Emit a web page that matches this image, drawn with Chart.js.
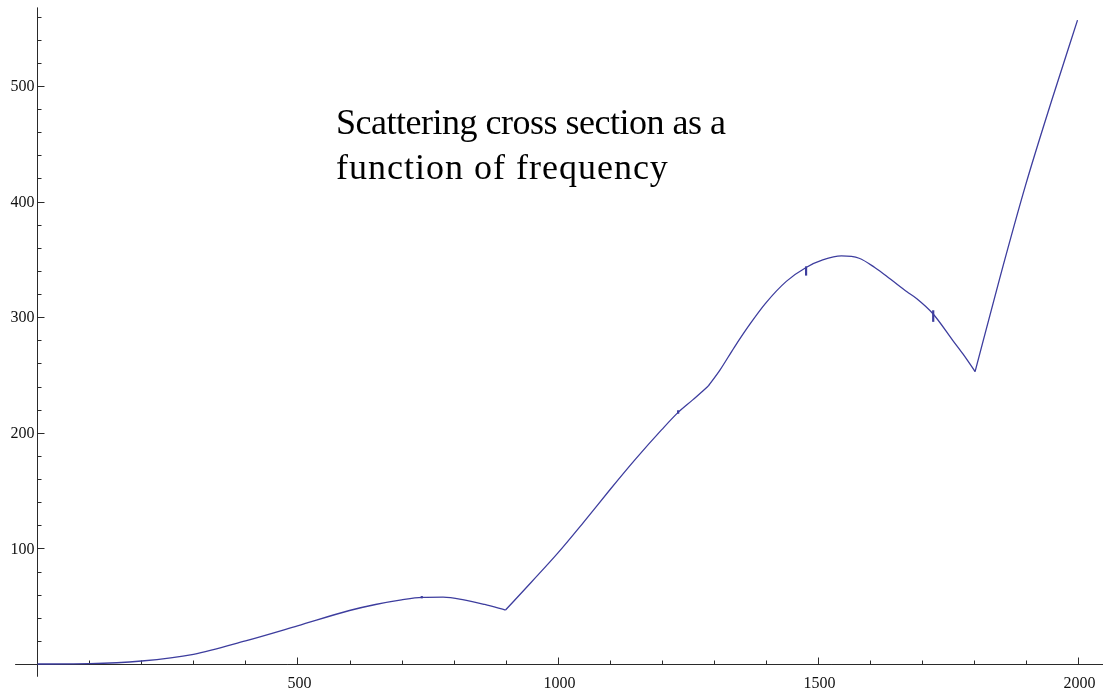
<!DOCTYPE html>
<html>
<head>
<meta charset="utf-8">
<title>Scattering cross section</title>
<script src="https://cdn.jsdelivr.net/npm/chart.js@4"></script>
<style>
  html, body { margin: 0; padding: 0; background: #fff; overflow: hidden; }
  canvas { display: block; }
</style>
</head>
<body>
<canvas id="chart" width="1103" height="692"></canvas>
<script>
// curve pieces (frequency, cross section), split at the sharp corners
const freqA = [0, 100, 200, 300, 400, 500, 600, 650, 700, 740, 780, 820, 860, 900];
const sigmaA = [0, 0.3, 2.6, 8.4, 20, 33, 46.3, 51.5, 55.5, 57.6, 57.8, 55.5, 51.5, 46.7];

const freqB = [900, 950, 1000, 1050, 1100, 1150, 1200, 1232, 1260, 1290];
const sigmaB = [46.7, 71, 95.7, 122.6, 150.3, 177.2, 202.5, 217.7, 228.5, 240.5];

const freqC = [1290, 1312, 1340, 1370, 1400, 1440, 1478, 1510, 1546, 1580, 1610, 1640, 1672, 1691, 1722, 1760, 1780, 1803];
const sigmaC = [240.5, 254, 274, 294, 312, 331, 343, 349.5, 353, 351, 343, 333, 322, 316, 303, 280, 268, 253];

const freqD = [1803, 1850, 1900, 1950, 2000];
const sigmaD = [253, 333, 414, 487, 557];

// small numerical glitches seen on the curve
const glitchFreq = [739, 1232, 1478, 1722.5];
const glitchLow = [56.8, 216.5, 336, 296];
const glitchHigh = [58.8, 219.5, 344, 306];

// axis ticks
const xTickValues = [500, 1000, 1500, 2000];
const xTickLabels = ['500', '1000', '1500', '2000'];
const yTickValues = [100, 200, 300, 400, 500];
const yTickLabels = ['100', '200', '300', '400', '500'];
const xMinorStep = 100;
const yMinorStep = 20;

const titleLines = ['Scattering cross section as a', 'function of frequency'];

const lineColor = '#3d3d9e';

function pts(xs, ys) {
  return xs.map((v, i) => ({ x: v, y: ys[i] }));
}

function curve(xs, ys) {
  return {
    data: pts(xs, ys),
    borderColor: lineColor,
    borderWidth: 1.3,
    pointRadius: 0,
    cubicInterpolationMode: 'monotone',
    fill: false,
  };
}

const datasets = [
  curve(freqA, sigmaA),
  curve(freqB, sigmaB),
  curve(freqC, sigmaC),
  curve(freqD, sigmaD),
];
glitchFreq.forEach((f, i) => {
  datasets.push({
    data: [{ x: f, y: glitchLow[i] }, { x: f, y: glitchHigh[i] }],
    borderColor: lineColor,
    borderWidth: 2.2,
    pointRadius: 0,
    tension: 0,
  });
});

function seg(ctx, x1, y1, x2, y2) {
  ctx.beginPath();
  ctx.moveTo(x1, y1);
  ctx.lineTo(x2, y2);
  ctx.stroke();
}

// Mathematica-like axes crossing at the origin
const axesPlugin = {
  id: 'originAxes',
  beforeDatasetsDraw(chart) {
    const { ctx, scales: { x, y } } = chart;
    const x0 = Math.round(x.getPixelForValue(0)) + 0.5;
    const y0 = Math.round(y.getPixelForValue(0)) + 0.5;
    ctx.save();
    ctx.strokeStyle = '#2a2a2a';
    ctx.lineWidth = 1;
    seg(ctx, x.getPixelForValue(-43), y0, chart.width, y0);
    seg(ctx, x0, y.getPixelForValue(-11), x0, y.getPixelForValue(568));

    for (let v = xMinorStep; v <= 2000; v += xMinorStep) {
      const px = Math.round(x.getPixelForValue(v)) + 0.5;
      const len = xTickValues.includes(v) ? 7 : 4;
      seg(ctx, px, y0, px, y0 - len);
    }
    for (let v = yMinorStep; v <= 560; v += yMinorStep) {
      const py = Math.round(y.getPixelForValue(v)) + 0.5;
      const len = yTickValues.includes(v) ? 7 : 4;
      seg(ctx, x0, py, x0 + len, py);
    }

    ctx.fillStyle = '#111';
    ctx.font = '16px "Liberation Serif", serif';
    ctx.textAlign = 'center';
    ctx.textBaseline = 'alphabetic';
    xTickValues.forEach((v, i) => {
      ctx.fillText(xTickLabels[i], x.getPixelForValue(v) + 2, y0 + 23);
    });
    ctx.textAlign = 'right';
    ctx.textBaseline = 'middle';
    yTickValues.forEach((v, i) => {
      ctx.fillText(yTickLabels[i], x0 - 3, y.getPixelForValue(v) + 1);
    });
    ctx.restore();
  },
  afterDraw(chart) {
    const { ctx } = chart;
    ctx.save();
    ctx.fillStyle = '#000';
    ctx.font = '36px "Liberation Serif", serif';
    ctx.textAlign = 'left';
    ctx.textBaseline = 'alphabetic';
    ctx.letterSpacing = '-0.5px';
    ctx.fillText(titleLines[0], 336, 134);
    ctx.letterSpacing = '1px';
    ctx.fillText(titleLines[1], 336, 179);
    ctx.restore();
  },
};

new Chart(document.getElementById('chart'), {
  type: 'line',
  data: { datasets },
  options: {
    responsive: false,
    animation: false,
    events: [],
    layout: { padding: 0 },
    plugins: {
      legend: { display: false },
      tooltip: { enabled: false },
    },
    scales: {
      x: { type: 'linear', min: -72.1, max: 2049, display: false },
      y: { type: 'linear', min: -24.2, max: 574.4, display: false },
    },
  },
  plugins: [axesPlugin],
});
</script>
</body>
</html>
